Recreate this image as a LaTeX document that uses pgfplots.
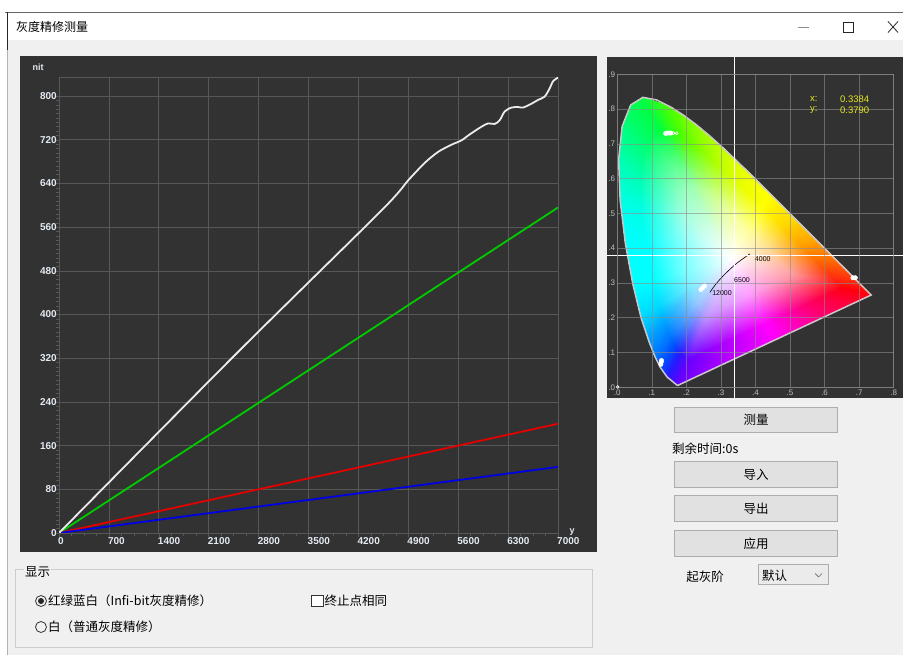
\documentclass[border=0pt]{standalone}
\usepackage{fontspec}
\setmainfont{Liberation Sans}
\newfontfamily\cjk{Noto Sans CJK SC}
\usepackage{pgfplots}
\pgfplotsset{compat=1.18}
\definecolor{panel}{HTML}{323232}
\definecolor{gridc}{HTML}{575757}
\definecolor{uibg}{HTML}{F0F0F0}
\definecolor{btn}{HTML}{E1E1E1}
\definecolor{btnb}{HTML}{ADADAD}
\definecolor{tickc}{HTML}{E4EAF2}
\definecolor{yel}{HTML}{E6E620}
\definecolor{locus}{HTML}{C8C8C8}
\begin{document}
\begin{tikzpicture}[x=1pt,y=1pt]
\useasboundingbox (0,0) rectangle (903,655);
\fill[white] (0,0) rectangle (903,655);
\fill[uibg] (8,0) rectangle (903,615);
\draw[black!60, line width=0.8pt] (5,643) -- (903,643);
\draw[black!85, line width=0.8pt] (7.5,643) -- (7.5,605);
\draw[black!30, line width=0.6pt] (7.5,605) -- (7.5,0);
% title bar
\node[anchor=west, inner sep=0pt, font=\cjk\fontsize{12}{14}\selectfont] at (16,628) {灰度精修测量};
\draw[black!45, line width=0.8pt] (798,628) -- (809,628);
\draw[black!85, line width=0.8pt] (843,623) rectangle (853,633);
\draw[black!85, line width=0.8pt] (888,622.5) -- (898,633.5) (888,633.5) -- (898,622.5);
% panels
\fill[panel] (19.5,102.5) rectangle (597,599);
\fill[panel] (607,257) rectangle (903,598);

\begin{axis}[
  at={(59pt,122pt)}, anchor=south west,
  scale only axis, width=499pt, height=456pt,
  xmin=0, xmax=7000, ymin=0, ymax=835,
  xtick={0,700,...,7000}, ytick={0,80,...,800},
  minor x tick num=3, minor y tick num=9,
  xtick pos=left, ytick pos=left,
  grid=major, grid style={draw=gridc, line width=0.7pt},
  axis line style={draw=gridc, line width=0.8pt},
  tick align=outside, major tick length=4pt, minor tick length=3pt,
  tick style={draw=gridc, line width=0.5pt},
  /pgf/number format/assume math mode=true,
  /pgf/number format/1000 sep={},
  ticklabel style={font=\bfseries\fontsize{10}{12}\selectfont, text=tickc},
  xticklabel style={anchor=north west, inner sep=0pt, xshift=-1pt, yshift=0pt},
  yticklabel style={anchor=east, inner sep=1pt, xshift=3pt},
]
\addplot[green!80!black, line width=1.8pt] coordinates {(0,0) (7000,596)};
\addplot[red!90!black, line width=1.8pt] coordinates {(0,0) (7000,200)};
\addplot[blue!90!black, line width=1.8pt] coordinates {(0,0) (7000,121)};
\addplot[white!92!black, line width=1.8pt, smooth, tension=0.45] coordinates {
(0,0) (2500,330) (4527,591) (4900,646) (5133,678) (5320,698) (5507,711) (5647,719)
(5763,730) (5927,744) (6020,750) (6113,749) (6183,756) (6253,772) (6347,779)
(6440,780) (6510,779) (6627,786) (6720,793) (6813,799) (6883,814) (6930,827) (7000,834)};
\end{axis}
\node[font=\bfseries\fontsize{9}{10}\selectfont, text=tickc] at (38,588) {nit};
\node[font=\bfseries\fontsize{9}{10}\selectfont, text=tickc] at (572,123) {y};

\begin{axis}[
  at={(617.3pt,267.7pt)}, anchor=south west,
  scale only axis, width=276.4pt, height=313pt,
  xmin=0, xmax=0.8, ymin=0, ymax=0.9,
  xtick={0,0.1,0.2,0.3,0.4,0.5,0.6,0.7,0.8},
  ytick={0,0.1,0.2,0.3,0.4,0.5,0.6,0.7,0.8,0.9},
  xticklabels={.0,.1,.2,.3,.4,.5,.6,.7,.8},
  yticklabels={.0,.1,.2,.3,.4,.5,.6,.7,.8,.9},
  major tick length=0pt,
  grid=major, grid style={draw=white!55!black, line width=0.7pt, opacity=0.6},
  axis line style={draw=white!55!black, line width=0.7pt, opacity=0.6},
  ticklabel style={font=\fontsize{8}{9}\selectfont, text=white!75!black, inner sep=1pt},
  xticklabel style={yshift=-1.5pt},
  yticklabel style={xshift=-1pt},
  axis on top, clip=false,
]
\addplot[surf, shader=interp, mesh/color input=explicit, mesh/cols=27] table[meta=c] {
x y c
0.33 0.37 rgb=1,1,1
0.33 0.37 rgb=1,1,1
0.33 0.37 rgb=1,1,1
0.33 0.37 rgb=1,1,1
0.33 0.37 rgb=1,1,1
0.33 0.37 rgb=1,1,1
0.33 0.37 rgb=1,1,1
0.33 0.37 rgb=1,1,1
0.33 0.37 rgb=1,1,1
0.33 0.37 rgb=1,1,1
0.33 0.37 rgb=1,1,1
0.33 0.37 rgb=1,1,1
0.33 0.37 rgb=1,1,1
0.33 0.37 rgb=1,1,1
0.33 0.37 rgb=1,1,1
0.33 0.37 rgb=1,1,1
0.33 0.37 rgb=1,1,1
0.33 0.37 rgb=1,1,1
0.33 0.37 rgb=1,1,1
0.33 0.37 rgb=1,1,1
0.33 0.37 rgb=1,1,1
0.33 0.37 rgb=1,1,1
0.33 0.37 rgb=1,1,1
0.33 0.37 rgb=1,1,1
0.33 0.37 rgb=1,1,1
0.33 0.37 rgb=1,1,1
0.33 0.37 rgb=1,1,1

0.2598 0.2057 rgb=0.76,0.6,1
0.2463 0.2169 rgb=0.66,0.64,1
0.2373 0.2295 rgb=0.6,0.72,1
0.2308 0.2426 rgb=0.6,0.78,1
0.2226 0.2632 rgb=0.55,0.84,1
0.2124 0.2938 rgb=0.5,0.94,1
0.2019 0.3362 rgb=0.5,1,1
0.1921 0.3892 rgb=0.5,1,1
0.1852 0.4458 rgb=0.55,1,0.96
0.1833 0.4982 rgb=0.6,1,0.88
0.1878 0.5411 rgb=0.6,1,0.8
0.1990 0.5689 rgb=0.6,1,0.74
0.2149 0.5787 rgb=0.6,1,0.7
0.2511 0.5662 rgb=0.72,1,0.6
0.2848 0.5429 rgb=0.82,1,0.6
0.3172 0.5150 rgb=0.9,1,0.6
0.3494 0.4845 rgb=0.97,1,0.6
0.3813 0.4531 rgb=1,1,0.6
0.4121 0.4225 rgb=1,0.94,0.6
0.4403 0.3944 rgb=1,0.86,0.6
0.4637 0.3711 rgb=1,0.78,0.6
0.4927 0.3422 rgb=1,0.68,0.62
0.5121 0.3229 rgb=1,0.6,0.62
0.4490 0.2937 rgb=1,0.6,0.78
0.3860 0.2643 rgb=1,0.6,1
0.3229 0.2350 rgb=0.88,0.6,1
0.2598 0.2057 rgb=0.76,0.6,1

0.2053 0.0780 rgb=0.4,0,1
0.1812 0.0978 rgb=0.15,0.1,1
0.1653 0.1202 rgb=0,0.3,1
0.1537 0.1434 rgb=0,0.45,1
0.1390 0.1802 rgb=0,0.6,1
0.1210 0.2346 rgb=0,0.85,1
0.1023 0.3100 rgb=0,1,1
0.0848 0.4042 rgb=0,1,1
0.0726 0.5047 rgb=0,1,0.9
0.0691 0.5978 rgb=0,1,0.7
0.0771 0.6742 rgb=0,1,0.5
0.0971 0.7236 rgb=0,1,0.35
0.1254 0.7410 rgb=0,1,0.25
0.1898 0.7187 rgb=0.3,1,0
0.2497 0.6774 rgb=0.55,1,0
0.3073 0.6278 rgb=0.75,1,0
0.3645 0.5736 rgb=0.92,1,0
0.4213 0.5178 rgb=1,1,0
0.4760 0.4633 rgb=1,0.85,0
0.5262 0.4134 rgb=1,0.65,0
0.5676 0.3720 rgb=1,0.45,0
0.6192 0.3206 rgb=1,0.2,0.05
0.6538 0.2862 rgb=1,0,0.05
0.5416 0.2343 rgb=1,0,0.45
0.4295 0.1822 rgb=1,0,1
0.3174 0.1301 rgb=0.7,0,1
0.2053 0.0780 rgb=0.4,0,1

0.1741 0.0050 rgb=0.4,0,1
0.1440 0.0297 rgb=0.15,0.1,1
0.1241 0.0578 rgb=0,0.3,1
0.1096 0.0868 rgb=0,0.45,1
0.0913 0.1327 rgb=0,0.6,1
0.0687 0.2007 rgb=0,0.85,1
0.0454 0.2950 rgb=0,1,1
0.0235 0.4127 rgb=0,1,1
0.0082 0.5384 rgb=0,1,0.9
0.0039 0.6548 rgb=0,1,0.7
0.0139 0.7502 rgb=0,1,0.5
0.0389 0.8120 rgb=0,1,0.35
0.0743 0.8338 rgb=0,1,0.25
0.1547 0.8059 rgb=0.3,1,0
0.2296 0.7543 rgb=0.55,1,0
0.3016 0.6923 rgb=0.75,1,0
0.3731 0.6245 rgb=0.92,1,0
0.4441 0.5547 rgb=1,1,0
0.5125 0.4866 rgb=1,0.85,0
0.5752 0.4242 rgb=1,0.65,0
0.6270 0.3725 rgb=1,0.45,0
0.6915 0.3083 rgb=1,0.2,0.05
0.7347 0.2653 rgb=1,0,0.05
0.5945 0.2004 rgb=1,0,0.45
0.4544 0.1352 rgb=1,0,1
0.3143 0.0701 rgb=0.7,0,1
0.1741 0.0050 rgb=0.4,0,1
};
\addplot[locus, line width=1.5pt] coordinates {
(0.1741,0.0050) (0.1440,0.0297) (0.1241,0.0578) (0.1096,0.0868) (0.0913,0.1327)
(0.0687,0.2007) (0.0454,0.2950) (0.0235,0.4127) (0.0082,0.5384) (0.0039,0.6548)
(0.0139,0.7502) (0.0389,0.8120) (0.0743,0.8338) (0.1142,0.8262) (0.1547,0.8059)
(0.1929,0.7816) (0.2296,0.7543) (0.2658,0.7243) (0.3016,0.6923) (0.3373,0.6589)
(0.3731,0.6245) (0.4087,0.5896) (0.4441,0.5547) (0.4788,0.5202) (0.5125,0.4866)
(0.5448,0.4544) (0.5752,0.4242) (0.6029,0.3965) (0.6270,0.3725) (0.6658,0.3340)
(0.6915,0.3083) (0.7079,0.2920) (0.7190,0.2809) (0.7300,0.2700) (0.7347,0.2653)
(0.1741,0.0050)};
\addplot[black, line width=0.6pt, smooth] coordinates {
(0.268,0.273) (0.280,0.290) (0.295,0.308) (0.313,0.327) (0.345,0.356) (0.384,0.384)};
\addplot[only marks, mark=*, mark size=2.2pt, white] coordinates {
(0.140,0.730) (0.145,0.731) (0.150,0.731) (0.155,0.731)
(0.682,0.315) (0.689,0.315)
(0.126,0.066) (0.127,0.072) (0.128,0.077)
(0.242,0.281) (0.247,0.286) (0.252,0.291)};
\addplot[only marks, mark=o, mark size=1.4pt, white, line width=0.6pt] coordinates {
(0.163,0.731) (0.172,0.730) (0.001,0.001)};
\addplot[white, line width=1pt] coordinates {(0.3384,-0.031) (0.3384,0.950)};
\addplot[white, line width=1pt] coordinates {(-0.030,0.3790) (0.827,0.3790)};
\node[font=\fontsize{7}{8}\selectfont] at (axis cs:0.303,0.271) {12000};
\node[font=\fontsize{7}{8}\selectfont] at (axis cs:0.361,0.309) {6500};
\node[font=\fontsize{7}{8}\selectfont] at (axis cs:0.421,0.369) {4000};
\end{axis}
% readout
\node[anchor=west, inner sep=0pt, text=yel, font=\fontsize{9.5}{10}\selectfont] at (810,556) {x:};
\node[anchor=west, inner sep=0pt, text=yel, font=\fontsize{9.5}{10}\selectfont] at (840,556) {0.3384};
\node[anchor=west, inner sep=0pt, text=yel, font=\fontsize{9.5}{10}\selectfont] at (810,545) {y:};
\node[anchor=west, inner sep=0pt, text=yel, font=\fontsize{9.5}{10}\selectfont] at (840,545) {0.3790};

% buttons
\begin{scope}[every node/.style={font=\cjk\fontsize{12.5}{14}\selectfont, inner sep=0pt}]
\draw[btnb, fill=btn, line width=1pt] (674.5,222.5) rectangle (837.5,247.5);
\node at (756,235) {测量};
\node[anchor=west] at (672,206.7) {剩余时间:0s};
\draw[btnb, fill=btn, line width=1pt] (674.5,167.5) rectangle (837.5,193);
\node at (756,180.3) {导入};
\draw[btnb, fill=btn, line width=1pt] (674.5,133.5) rectangle (837.5,159);
\node at (756,146.2) {导出};
\draw[btnb, fill=btn, line width=1pt] (674.5,98.5) rectangle (837.5,124);
\node at (756,111) {应用};
\node at (705,78.3) {起灰阶};
\draw[btnb, fill=black!8, line width=1pt] (758.5,70) rectangle (828,90);
\node[anchor=west] at (762,79.5) {默认};
\draw[black!60, line width=0.7pt] (815,81.5) -- (818.5,78) -- (822,81.5);
% group box
\draw[black!20, line width=0.8pt] (15.5,86) rectangle (592,8);
\node[anchor=west, fill=uibg, inner xsep=1pt] at (24,83) {显示};
\draw[black!80, line width=0.8pt] (41,54) circle (5.5);
\fill[black!85] (41,54) circle (3);
\node[anchor=west] at (48,54) {红绿蓝白（Infi-bit灰度精修）};
\draw[black!80, line width=0.8pt, fill=white] (311.5,48.5) rectangle (323,60);
\node[anchor=west] at (324.5,54) {终止点相同};
\draw[black!80, line width=0.8pt] (41,28) circle (5.5);
\node[anchor=west] at (48,28) {白（普通灰度精修）};
\end{scope}
\end{tikzpicture}
\end{document}
